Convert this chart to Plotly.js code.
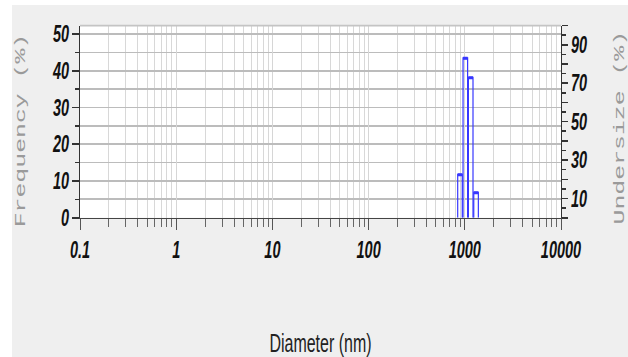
<!DOCTYPE html>
<html>
<head>
<meta charset="utf-8">
<script src="https://cdn.plot.ly/plotly-3.0.1.min.js"></script>
<style>
  html { margin: 0; padding: 0; background: #ffffff; overflow: hidden; }
  body { margin: 0; padding: 0; background: #ffffff; width: 628px; height: 357px; }
  #chart { width: 628px; height: 223px; transform: scaleY(1.6009); transform-origin: 0 0; }
</style>
</head>
<body>
<div id="chart"></div>
<script>
// ---- data ----
const binEdgesNm = [836, 950, 1080, 1228, 1396];     // histogram bin edges (nm)
const frequencyPct = [11.7, 43.4, 38.1, 6.8];        // frequency per bin (%)
const xTickVals = [0.1, 1, 10, 100, 1000, 10000];
const xTickText = ['0.1', '1', '10', '100', '1000', '10000'];
const yTickVals = [0, 10, 20, 30, 40, 50];
const yTickText = ['0', '10', '20', '30', '40', '50'];
const y2TickVals = [0, 10, 20, 30, 40, 50, 60, 70, 80, 90, 100];
const y2TickText = ['', '10', '', '30', '', '50', '', '70', '', '90', ''];
const xTitle = 'Diameter (nm)';
const yTitle = 'Frequency (%)';
const y2Title = 'Undersize (%)';

// minor log tick positions (2..9 in each decade)
const minorX = [];
for (let e = -1; e < 4; e++) {
  for (let d = 2; d <= 9; d++) minorX.push(+(d * Math.pow(10, e)).toPrecision(3));
}

// histogram outlines built from the bin arrays
const gap = Math.pow(10, 0.004);
const ox = [], oy = [], tx = [], ty = [];
for (let i = 0; i < frequencyPct.length; i++) {
  const l = binEdgesNm[i] * gap, r = binEdgesNm[i + 1] / gap, h = frequencyPct[i];
  ox.push(l, l, r, r, null); oy.push(0, h, h, 0, null);
  tx.push(l, r, null); ty.push(h, h, null);
}

const barColor = 'rgb(55,55,255)';
const traces = [
  { x: ox, y: oy, type: 'scatter', mode: 'lines', line: { color: barColor, width: 1.2 },
    hoverinfo: 'skip', showlegend: false, name: 'Frequency' },
  { x: tx, y: ty, type: 'scatter', mode: 'lines', line: { color: barColor, width: 1.8 },
    hoverinfo: 'skip', showlegend: false, name: 'Frequency top' },
  { x: [], y: [], type: 'scatter', mode: 'lines', yaxis: 'y2', showlegend: false, name: 'Undersize' }
];

const tickFont = { family: '"Liberation Sans Narrow", "Arial Narrow", sans-serif', size: 14.5,
                   color: '#111', weight: 'bold', style: 'italic' };
const titleFont = { family: '"Liberation Mono", "Courier New", monospace', size: 15.5, color: '#9a9a9a' };

const layout = {
  width: 628, height: 223,
  margin: { l: 80, r: 67, t: 16, b: 87, pad: 0 },
  paper_bgcolor: '#efefef',
  plot_bgcolor: '#ffffff',
  showlegend: false,
  xaxis: {
    type: 'log', range: [-1, 4], autorange: false,
    tickmode: 'array', tickvals: xTickVals, ticktext: xTickText,
    ticks: 'outside', ticklen: 6.5, tickwidth: 1, tickcolor: '#555',
    showgrid: true, gridcolor: '#d6d6d6', gridwidth: 1,
    showline: true, linecolor: '#444', linewidth: 1,
    zeroline: false,
    tickfont: tickFont,
    minor: { tickmode: 'array', tickvals: minorX, ticks: 'outside', ticklen: 5, tickcolor: '#666',
             showgrid: true, gridcolor: '#d8d8d8', gridwidth: 1 },
    title: { text: xTitle, standoff: 48,
             font: { family: '"Liberation Sans Narrow", "Arial Narrow", sans-serif', size: 16, color: '#222' } }
  },
  yaxis: {
    range: [0, 52.3], autorange: false,
    tickmode: 'array', tickvals: yTickVals, ticktext: yTickText,
    ticks: 'outside', ticklen: 7, tickwidth: 1, tickcolor: '#333',
    showgrid: true, gridcolor: '#bcbcbc', gridwidth: 1.1,
    showline: true, linecolor: '#333', linewidth: 1,
    zeroline: false,
    tickfont: tickFont,
    minor: { dtick: 5, tick0: 0, ticks: 'outside', ticklen: 4, tickcolor: '#333',
             showgrid: true, gridcolor: '#bcbcbc', gridwidth: 1.1 },
    title: { text: '' }
  },
  yaxis2: {
    overlaying: 'y', side: 'right', anchor: 'x',
    range: [0, 100], autorange: false,
    tickmode: 'array', tickvals: y2TickVals, ticktext: y2TickText,
    ticks: 'outside', ticklen: 6, tickwidth: 1, tickcolor: '#333',
    showgrid: false, showline: true, linecolor: '#333', linewidth: 1,
    zeroline: false,
    tickfont: tickFont,
    minor: { dtick: 5, tick0: 0, ticks: 'outside', ticklen: 4, tickcolor: '#333', showgrid: false },
    title: { text: '' }
  },
  annotations: [
    { text: yTitle, xref: 'paper', yref: 'paper', x: -59 / 481, y: 0.45, textangle: -90,
      xanchor: 'center', yanchor: 'middle', showarrow: false, font: titleFont },
    { text: y2Title, xref: 'paper', yref: 'paper', x: 540 / 481, y: 0.465, textangle: -90,
      xanchor: 'center', yanchor: 'middle', showarrow: false, font: titleFont }
  ],
  shapes: [
    { type: 'line', xref: 'paper', yref: 'paper', x0: 0, x1: 1, y0: 1, y1: 1,
      line: { color: '#c4c4c4', width: 1 } },
    // white strips at the top and left edge of the picture
    { type: 'rect', xref: 'paper', yref: 'paper', x0: -80 / 481, x1: 548 / 481,
      y0: 1 + 12.9 / 120, y1: 1 + 16 / 120, fillcolor: '#ffffff', line: { width: 0 }, layer: 'below' },
    { type: 'rect', xref: 'paper', yref: 'paper', x0: -80 / 481, x1: -68 / 481,
      y0: -87 / 120, y1: 1 + 16 / 120, fillcolor: '#ffffff', line: { width: 0 }, layer: 'below' }
  ]
};

Plotly.newPlot('chart', traces, layout, { displayModeBar: false, staticPlot: true, responsive: false });
</script>
</body>
</html>
